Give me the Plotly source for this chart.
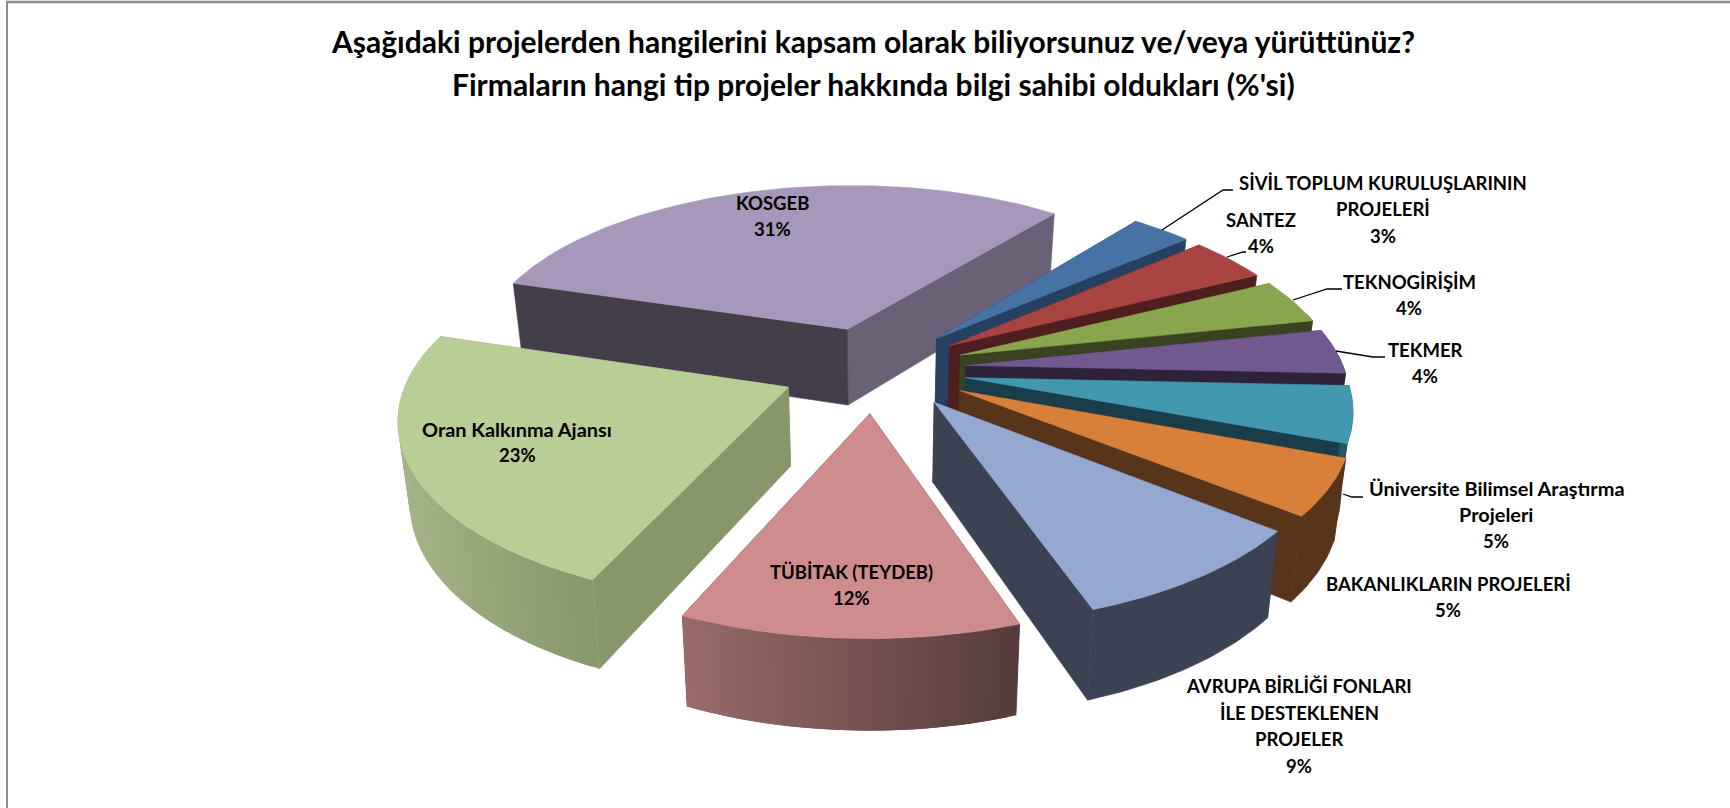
import math
import plotly.graph_objects as go

# ---- data ----
categories = ["SİVİL TOPLUM KURULUŞLARININ<br>PROJELERİ", "SANTEZ", "TEKNOGİRİŞİM", "TEKMER",
              "Üniversite Bilimsel Araştırma<br>Projeleri", "BAKANLIKLARIN PROJELERİ",
              "AVRUPA BİRLİĞİ FONLARI<br>İLE DESTEKLENEN<br>PROJELER", "TÜBİTAK (TEYDEB)",
              "Oran Kalkınma Ajansı", "KOSGEB"]
shares = [3, 4, 4, 4, 5, 5, 9, 12, 23, 31]
title_lines = ["Aşağıdaki projelerden hangilerini kapsam olarak biliyorsunuz ve/veya yürüttünüz?",
               "Firmaların hangi tip projeler hakkında bilgi sahibi oldukları (%'si)"]

# ---- style ----
top_colors = ["#4672A6", "#A74341", "#89A54E", "#71588F", "#4198AF", "#D88039", "#93A9CF", "#CE8D8C", "#B9CD96", "#A797BA"]
start_wall = ["#254061", "#4F1E1E", "#394320", "#2F2238", "#1A3D4A", "#57341A", "#3B4254", "#553B3B", "#87966B", "#443E4B"]
end_wall = ["#254061", "#4F1E1E", "#394320", "#2F2238", "#1A3D4A", "#57341A", "#3B4254", "#553B3B", "#87966B", "#6A6176"]
rim_left = ["#254061", "#4F1E1E", "#394320", "#2F2238", "#215968", "#57341A", "#3B4254", "#996B6A", "#A4B486", "#6A6176"]
rim_right = ["#254061", "#4F1E1E", "#394320", "#2F2238", "#215968", "#57341A", "#3B4254", "#553B3B", "#87966B", "#6A6176"]
draw_order = [9, 0, 1, 2, 3, 4, 5, 6, 8, 7]
START_ANGLE = 38.5
CX, CY, R, K, P, EXPLODE, DROP, Q = 874, 369, 378, 0.466, 0.15, 0.245, 78, 0.025
slice_nudge = {5: (4, 0), 6: (5, -3)}  # extra explosion shift of single slices
LABEL_SIZE, MIXED_SIZE, TITLE_SIZE, LABEL_LEAD = 18.5, 19.9, 30, 26.5
label_pos = {0: (1383, 209), 1: (1261, 233), 2: (1409, 295), 3: (1425, 363), 4: (1496, 514),
             5: (1448, 597), 6: (1299, 726), 7: (851, 585), 8: (517, 442), 9: (772, 216)}
title_pos = [(873, 41), (873, 84)]
leaders = [[(1162, 230), (1223, 190), (1233, 190)], [(1227, 257), (1243, 252), (1246, 252)],
           [(1293, 300), (1327, 289), (1342, 289)], [(1336, 351), (1373, 357), (1385, 357)],
           [(1343, 494), (1352, 497), (1363, 497)]]


def project(x, y, down=0.0, nudge=(0, 0)):
    s = 1 / (1 + P * y)
    sx = CX + R * x * s
    sy = CY - R * K * y * s
    if down:
        sx = CX + (sx - CX) * (1 - Q)
        sy += DROP * s ** 0.8
    return sx + nudge[0], sy + nudge[1]


def rgb(h):
    return [int(h[i:i + 2], 16) for i in (1, 3, 5)]


def mix(a, b, t):
    ca, cb = rgb(a), rgb(b)
    return "rgb(%d,%d,%d)" % tuple(round(ca[i] + (cb[i] - ca[i]) * t) for i in range(3))


fig = go.Figure()


def poly(points, color, edge=0.6):
    fig.add_trace(go.Scatter(x=[p[0] for p in points] + [points[0][0]],
                             y=[p[1] for p in points] + [points[0][1]],
                             mode="lines", fill="toself", fillcolor=color,
                             line=dict(color=color, width=edge), hoverinfo="skip", showlegend=False))


total = sum(shares)
bounds = [START_ANGLE]
for v in shares:
    bounds.append(bounds[-1] + 360 * v / total)

for i in draw_order:
    a0, a1 = math.radians(bounds[i]), math.radians(bounds[i + 1])
    mid = (a0 + a1) / 2
    ox, oy = EXPLODE * math.sin(mid), EXPLODE * math.cos(mid)
    nd = slice_nudge.get(i, (0, 0))
    n = max(4, int(shares[i] * 3))
    ang = [a0 + (a1 - a0) * j / n for j in range(n + 1)]
    rim = [(ox + math.sin(a), oy + math.cos(a)) for a in ang]
    # radial walls
    for pt, col in ((rim[-1], end_wall[i]), (rim[0], start_wall[i])):
        poly([project(ox, oy, 0, nd), project(*pt, 0, nd), project(*pt, 1, nd), project(ox, oy, 1, nd)], col)
    # outer wall: only the part turned towards the viewer
    front = [j for j in range(n + 1) if math.cos(ang[j]) < 0.25]
    if len(front) > 1:
        pts = [rim[j] for j in front]
        if rim_left[i] == rim_right[i]:
            poly([project(*p, 0, nd) for p in pts] + [project(*p, 1, nd) for p in reversed(pts)], rim_left[i])
        else:
            xs = [project(*p)[0] for p in pts]
            lo, hi = min(xs), max(xs)
            for j in range(len(pts) - 1):
                t = ((xs[j] + xs[j + 1]) / 2 - lo) / (hi - lo)
                seg = pts[j:j + 3]  # each facet overlaps the next so no seam shows
                poly([project(*p, 0, nd) for p in seg] + [project(*p, 1, nd) for p in reversed(seg)],
                     mix(rim_left[i], rim_right[i], t), edge=0)
    # top face
    poly([project(ox, oy, 0, nd)] + [project(*p, 0, nd) for p in rim], top_colors[i])

for path in leaders:
    fig.add_trace(go.Scatter(x=[p[0] for p in path], y=[p[1] for p in path], mode="lines",
                             line=dict(color="black", width=1.3), hoverinfo="skip", showlegend=False))

FONT = "Lato"
ann = []


def add_text(x, y, text, size):
    ann.append(dict(x=x, y=y, xref="x", yref="y", showarrow=False, xanchor="center", yanchor="middle",
                    text="<b>%s</b>" % text, font=dict(family=FONT, size=size, color="black")))


for i, name in enumerate(categories):
    x, y = label_pos[i]
    lines = name.split("<br>") + ["%d%%" % shares[i]]
    for j, line in enumerate(lines):
        mixed = any(c.islower() for c in line)
        add_text(x, y + (j - (len(lines) - 1) / 2) * LABEL_LEAD, line, MIXED_SIZE if mixed else LABEL_SIZE)
for (x, y), line in zip(title_pos, title_lines):
    add_text(x, y, line, TITLE_SIZE)

fig.update_layout(width=1730, height=808, margin=dict(l=0, r=0, t=0, b=0), paper_bgcolor="white", plot_bgcolor="white",
                  xaxis=dict(range=[0, 1730], visible=False, fixedrange=True),
                  yaxis=dict(range=[808, 0], visible=False, fixedrange=True),
                  annotations=ann,
                  shapes=[dict(type="line", xref="x", yref="y", x0=7, x1=7, y0=2, y1=808, line=dict(color="#8c8c8c", width=2)),
                          dict(type="line", xref="x", yref="y", x0=6, x1=1730, y0=2, y1=2, line=dict(color="#8c8c8c", width=2.5))])
fig.write_html("out.html", config={"displayModeBar": False},
               post_script="document.body.style.margin='0';document.body.style.overflow='hidden';")
